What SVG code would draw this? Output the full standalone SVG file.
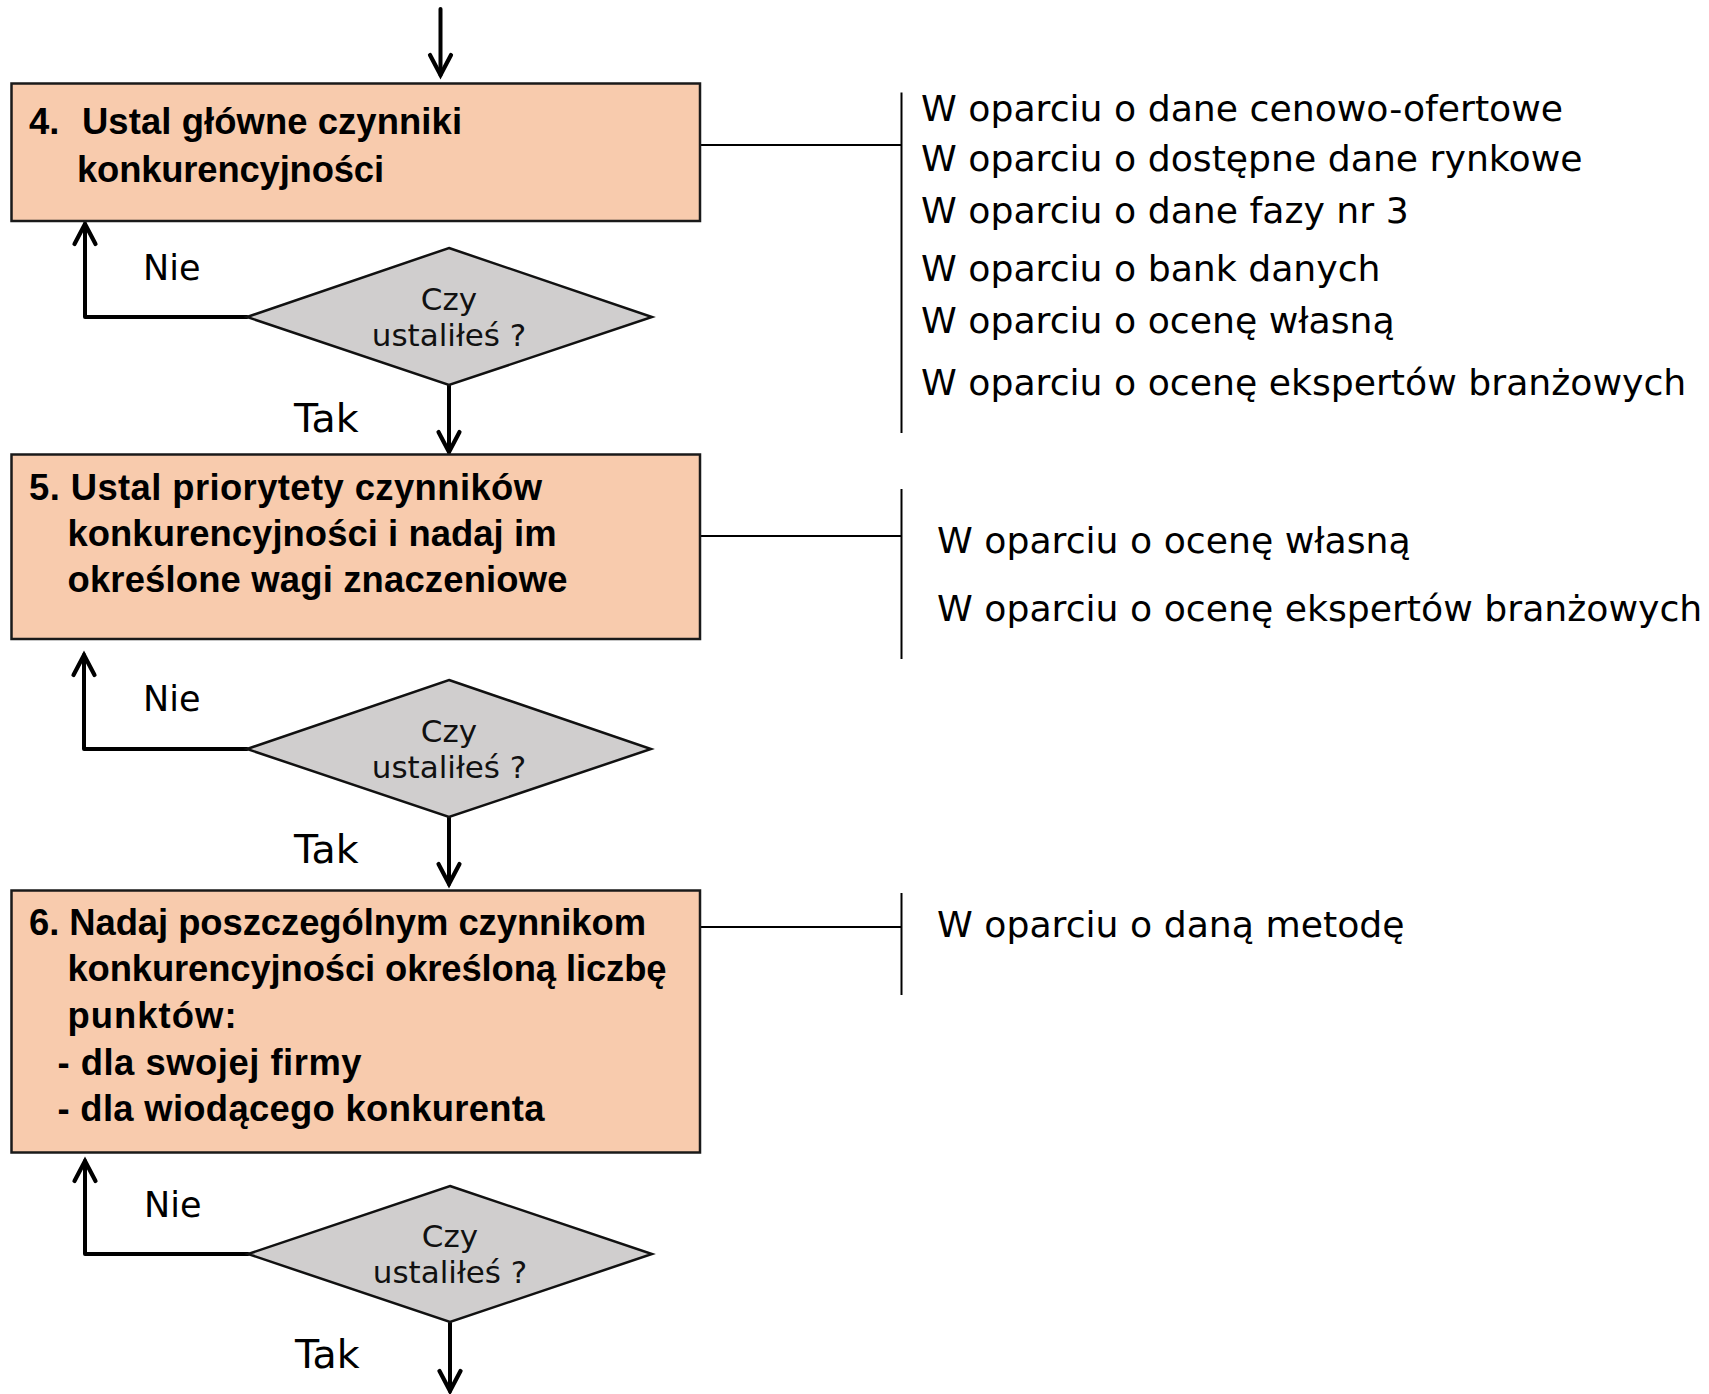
<svg xmlns="http://www.w3.org/2000/svg" width="1709" height="1394" viewBox="0 0 1709 1394">
  <style>
    .step { fill: #F8CBAD; stroke: #1a1a1a; stroke-width: 2.5; }
    .decision { fill: #D0CECE; stroke: #111; stroke-width: 2.5; stroke-linejoin: miter; }
    .steptext { font-family: "Liberation Sans", Arial, sans-serif; font-weight: bold; font-size: 36.4px; fill: #000; }
    .qtext { font-family: "DejaVu Sans", Verdana, sans-serif; font-size: 31px; fill: #111; text-anchor: middle; }
    .nie { font-family: "DejaVu Sans", Verdana, sans-serif; font-size: 35px; fill: #000; }
    .tak { font-family: "DejaVu Sans", Verdana, sans-serif; font-size: 39.5px; fill: #000; }
    .note { font-family: "DejaVu Sans", Verdana, sans-serif; font-size: 36.2px; fill: #000; }
    .flow { fill: none; stroke: #000; stroke-width: 4; stroke-linecap: round; stroke-linejoin: round; }
    .bracket { fill: none; stroke: #000; stroke-width: 2; }
  </style>
  <defs>
    <marker id="arrow" markerUnits="userSpaceOnUse" markerWidth="30" markerHeight="30" viewBox="-25 -15 30 30" refX="0" refY="0" orient="auto" overflow="visible">
      <path d="M -20 -10.5 L 0 0 L -20 10.5" fill="none" stroke="#000" stroke-width="4.2" stroke-linecap="round" stroke-linejoin="miter"/>
    </marker>
  </defs>

  <rect width="1709" height="1394" fill="#fff"/>

  <!-- connectors -->
  <g id="connectors">
    <!-- entry arrow -->
    <line class="flow" x1="440.5" y1="9" x2="440.5" y2="75" marker-end="url(#arrow)"/>
    <!-- decision 1 -->
    <polyline class="flow" points="247,317 85,317 85,224" marker-end="url(#arrow)"/>
    <line class="flow" x1="449" y1="385" x2="449" y2="452" marker-end="url(#arrow)"/>
    <!-- decision 2 -->
    <polyline class="flow" points="247,749 84,749 84,655" marker-end="url(#arrow)"/>
    <line class="flow" x1="449" y1="817" x2="449" y2="884" marker-end="url(#arrow)"/>
    <!-- decision 3 -->
    <polyline class="flow" points="248,1254 85,1254 85,1161" marker-end="url(#arrow)"/>
    <line class="flow" x1="450" y1="1323" x2="450" y2="1391" marker-end="url(#arrow)"/>
    <!-- side brackets -->
    <line class="bracket" x1="700" y1="145" x2="901.5" y2="145"/>
    <line class="bracket" x1="901.5" y1="92.5" x2="901.5" y2="433"/>
    <line class="bracket" x1="700" y1="536" x2="901.5" y2="536"/>
    <line class="bracket" x1="901.5" y1="489" x2="901.5" y2="659"/>
    <line class="bracket" x1="700" y1="927" x2="901.5" y2="927"/>
    <line class="bracket" x1="901.5" y1="893" x2="901.5" y2="995"/>
  </g>

  <!-- step 4 -->
  <g id="step4">
    <rect class="step" x="11.5" y="83.5" width="688.5" height="137.5"/>
    <text class="steptext" x="29" y="134">4.</text>
    <text class="steptext" x="82" y="134" textLength="380">Ustal główne czynniki</text>
    <text class="steptext" x="77" y="182" textLength="307">konkurencyjności</text>
  </g>

  <g id="decision1">
    <polygon class="decision" points="449,248 652,317 449,385 247,317"/>
    <text class="qtext" x="449" y="310">Czy</text>
    <text class="qtext" x="449" y="346">ustaliłeś ?</text>
    <text class="nie" x="143" y="280">Nie</text>
    <text class="tak" x="294" y="432">Tak</text>
  </g>

  <!-- step 5 -->
  <g id="step5">
    <rect class="step" x="11.5" y="454.5" width="688.5" height="184.5"/>
    <text class="steptext" x="29" y="500" textLength="513">5. Ustal priorytety czynników</text>
    <text class="steptext" x="67.5" y="546" textLength="489">konkurencyjności i nadaj im</text>
    <text class="steptext" x="67.5" y="592" textLength="500">określone wagi znaczeniowe</text>
  </g>

  <g id="decision2">
    <polygon class="decision" points="449,680 651,749 449,817 247,749"/>
    <text class="qtext" x="449" y="742">Czy</text>
    <text class="qtext" x="449" y="778">ustaliłeś ?</text>
    <text class="nie" x="143" y="711">Nie</text>
    <text class="tak" x="294" y="863">Tak</text>
  </g>

  <!-- step 6 -->
  <g id="step6">
    <rect class="step" x="11.5" y="890.5" width="688.5" height="262"/>
    <text class="steptext" x="29" y="935" textLength="617">6. Nadaj poszczególnym czynnikom</text>
    <text class="steptext" x="67.5" y="981" textLength="599">konkurencyjności określoną liczbę</text>
    <text class="steptext" x="67.5" y="1028" textLength="169">punktów:</text>
    <text class="steptext" x="57.5" y="1075" textLength="304">- dla swojej firmy</text>
    <text class="steptext" x="57.5" y="1121" textLength="487">- dla wiodącego konkurenta</text>
  </g>

  <g id="decision3">
    <polygon class="decision" points="450,1186 652,1254 450,1322 248,1254"/>
    <text class="qtext" x="450" y="1247">Czy</text>
    <text class="qtext" x="450" y="1283">ustaliłeś ?</text>
    <text class="nie" x="144" y="1217">Nie</text>
    <text class="tak" x="295" y="1368">Tak</text>
  </g>

  <!-- sources for step 4 -->
  <g id="notes4">
    <text class="note" x="921" y="121">W oparciu o dane cenowo-ofertowe</text>
    <text class="note" x="921" y="171">W oparciu o dostępne dane rynkowe</text>
    <text class="note" x="921" y="223">W oparciu o dane fazy nr 3</text>
    <text class="note" x="921" y="281">W oparciu o bank danych</text>
    <text class="note" x="921" y="333">W oparciu o ocenę własną</text>
    <text class="note" x="921" y="395">W oparciu o ocenę ekspertów branżowych</text>
  </g>

  <!-- sources for step 5 -->
  <g id="notes5">
    <text class="note" x="937" y="553">W oparciu o ocenę własną</text>
    <text class="note" x="937" y="621">W oparciu o ocenę ekspertów branżowych</text>
  </g>

  <!-- sources for step 6 -->
  <g id="notes6">
    <text class="note" x="937" y="937">W oparciu o daną metodę</text>
  </g>
</svg>
